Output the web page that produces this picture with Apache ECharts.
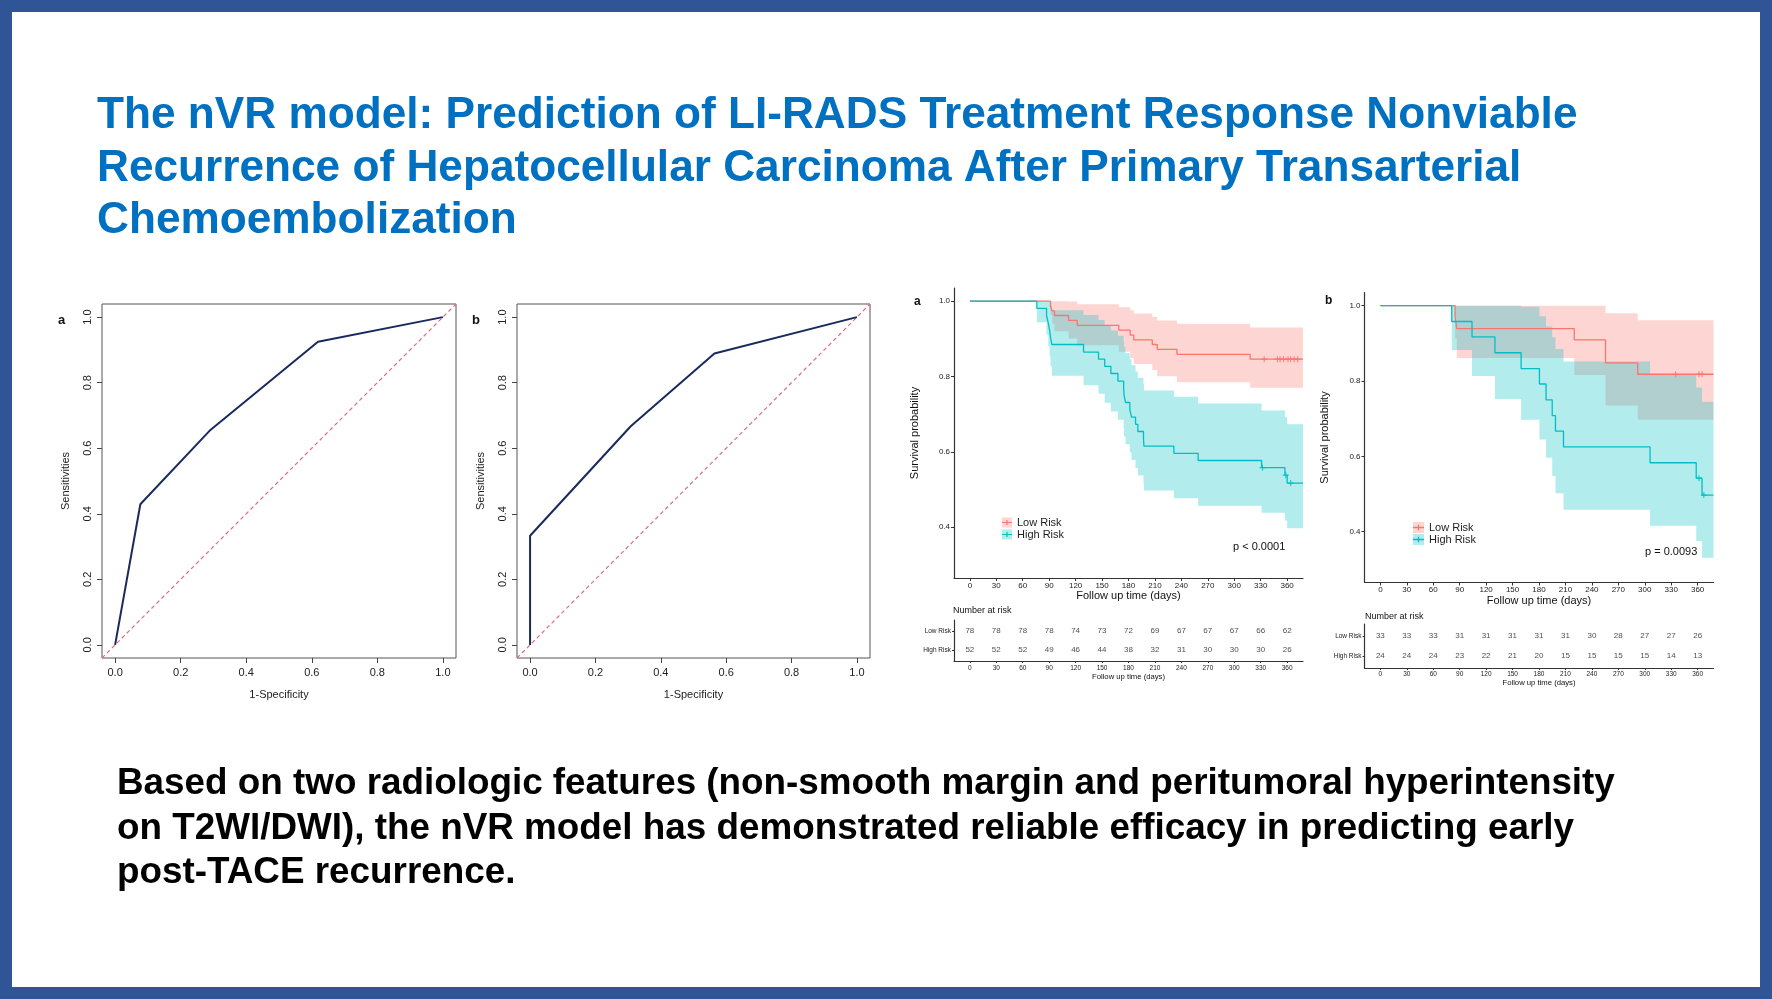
<!DOCTYPE html>
<html>
<head>
<meta charset="utf-8">
<title>nVR model</title>
<script src="https://cdn.jsdelivr.net/npm/echarts@6/dist/echarts.min.js"></script>
<style>
  html, body { margin: 0; padding: 0; background: #fff; }
  #chart { position: absolute; left: 0; top: 0; width: 1772px; height: 999px; }
  #frame { position: absolute; left: 0; top: 0; width: 1772px; height: 999px; box-sizing: border-box;
           border: 12px solid #2F5597; pointer-events: none; }
</style>
</head>
<body>
<div id="chart"></div>
<div id="frame"></div>
<script>
const FONT = "'Liberation Sans', Arial, Helvetica, sans-serif";

// texts
const titleLines = [
  'The nVR model: Prediction of LI-RADS Treatment Response Nonviable',
  'Recurrence of Hepatocellular Carcinoma After Primary Transarterial',
  'Chemoembolization'
];
const summaryLines = [
  'Based on two radiologic features (non-smooth margin and peritumoral hyperintensity',
  'on T2WI/DWI), the nVR model has demonstrated reliable efficacy in predicting early',
  'post-TACE recurrence.'
];

// ROC curves
const rocTicks = [0, 0.2, 0.4, 0.6, 0.8, 1.0];
const rocDiag = [-0.04, 1.04];
const rocA_fpr = [0, 0.077, 0.288, 0.619, 1];
const rocA_tpr = [0, 0.429, 0.653, 0.925, 1];
const rocB_fpr = [0, 0, 0.308, 0.564, 1];
const rocB_tpr = [0, 0.333, 0.667, 0.889, 1];

// Kaplan-Meier, panel a
const kmA_lowTime  = [0, 91.5, 93.4, 96, 112, 121.8, 169, 182, 186, 207, 212.6, 235, 318, 378];
const kmA_lowSurv  = [1, 0.987, 0.974, 0.962, 0.949, 0.936, 0.923, 0.910, 0.897, 0.885, 0.872, 0.859, 0.846, 0.846];
const kmA_lowLower = [1, 0.963, 0.940, 0.920, 0.901, 0.883, 0.866, 0.849, 0.833, 0.817, 0.801, 0.785, 0.770, 0.770];
const kmA_lowUpper = [1, 1, 1, 1, 0.999, 0.992, 0.984, 0.976, 0.967, 0.958, 0.949, 0.940, 0.930, 0.930];
const kmA_lowCensor = [334, 349, 352, 356, 361, 364, 368, 372];
const kmA_lowCensorSurv = [0.846, 0.846, 0.846, 0.846, 0.846, 0.846, 0.846, 0.846];

const kmA_highTime  = [0, 76, 87, 89, 90.5, 91.5, 93, 129, 146, 153, 160, 168, 174.5, 175, 176.6,
                       181.5, 183.4, 188, 190.6, 197, 197.5, 231.5, 259, 331, 357.5, 360, 378];
const kmA_highSurv  = [1, 0.981, 0.962, 0.942, 0.923, 0.904, 0.885, 0.865, 0.846, 0.827, 0.808, 0.788, 0.769, 0.750, 0.731,
                       0.712, 0.692, 0.673, 0.654, 0.635, 0.615, 0.596, 0.577, 0.558, 0.538, 0.517, 0.517];
const kmA_highLower = [1, 0.944, 0.911, 0.881, 0.853, 0.827, 0.802, 0.777, 0.754, 0.730, 0.707, 0.685, 0.663, 0.641, 0.620,
                       0.598, 0.578, 0.557, 0.537, 0.516, 0.497, 0.477, 0.457, 0.438, 0.418, 0.397, 0.397];
const kmA_highUpper = [1, 1, 1, 1, 0.998, 0.988, 0.976, 0.963, 0.950, 0.936, 0.922, 0.908, 0.893, 0.878, 0.862,
                       0.846, 0.830, 0.813, 0.797, 0.780, 0.763, 0.746, 0.728, 0.710, 0.692, 0.673, 0.673];
const kmA_highCensor = [332, 358.5, 364];
const kmA_highCensorSurv = [0.558, 0.538, 0.517];

// Kaplan-Meier, panel b
const kmB_lowTime  = [0, 84.8, 86.7, 220, 255.5, 292, 378];
const kmB_lowSurv  = [1, 0.970, 0.939, 0.909, 0.848, 0.818, 0.818];
const kmB_lowLower = [1, 0.913, 0.861, 0.816, 0.735, 0.697, 0.697];
const kmB_lowUpper = [1, 1, 1, 1, 0.980, 0.961, 0.961];
const kmB_lowCensor = [335, 361.5, 365];
const kmB_lowCensorSurv = [0.818, 0.818, 0.818];

const kmB_highTime  = [0, 81, 104, 130, 159.7, 180.5, 188, 195, 198.7, 207.8, 306, 358.4, 365, 378];
const kmB_highSurv  = [1, 0.958, 0.917, 0.875, 0.833, 0.792, 0.750, 0.708, 0.667, 0.625, 0.583, 0.542, 0.497, 0.497];
const kmB_highLower = [1, 0.882, 0.813, 0.752, 0.697, 0.645, 0.596, 0.548, 0.502, 0.458, 0.416, 0.375, 0.331, 0.331];
const kmB_highUpper = [1, 1, 1, 1, 0.997, 0.972, 0.945, 0.916, 0.885, 0.852, 0.818, 0.783, 0.745, 0.745];
const kmB_highCensor = [361.5, 367];
const kmB_highCensorSurv = [0.542, 0.497];

// Number at risk
const riskTimes = [0, 30, 60, 90, 120, 150, 180, 210, 240, 270, 300, 330, 360];
const riskA_low  = [78, 78, 78, 78, 74, 73, 72, 69, 67, 67, 67, 66, 62];
const riskA_high = [52, 52, 52, 49, 46, 44, 38, 32, 31, 30, 30, 30, 26];
const riskB_low  = [33, 33, 33, 31, 31, 31, 31, 31, 30, 28, 27, 27, 26];
const riskB_high = [24, 24, 24, 23, 22, 21, 20, 15, 15, 15, 15, 14, 13];
const survTicks = [0.4, 0.6, 0.8, 1.0];

const RED = '#F8766D', CYAN = '#00BFC4';
const RED_BAND = 'rgba(248,118,109,0.3)', CYAN_BAND = 'rgba(0,191,196,0.3)';
const PLUS = 'path://M2,0H3V2H5V3H3V5H2V3H0V2H2Z';
const KEY_LINE = 'path://M0,0h0.01v0.01h-0.01z M9.99,9.99h0.01v0.01h-0.01z M0,4.4H10V5.6H0z M4.4,2.6H5.6V7.4H4.4z';

const zip = (a, b) => a.map((v, i) => [v, b[i]]);

// ---- axes ----
function rocX(gi) {
  return {
    type: 'value', gridIndex: gi, min: -0.04, max: 1.04,
    axisLine: { show: false, onZero: false },
    axisTick: { show: true, customValues: rocTicks, length: 5, lineStyle: { color: '#444' } },
    axisLabel: { customValues: rocTicks, formatter: v => v.toFixed(1), margin: 9, fontSize: 11, color: '#222', fontFamily: FONT },
    splitLine: { show: false },
    name: '1-Specificity', nameLocation: 'middle', nameGap: 31,
    nameTextStyle: { fontSize: 11, color: '#222', fontFamily: FONT }
  };
}
function rocY(gi) {
  return {
    type: 'value', gridIndex: gi, min: -0.04, max: 1.04,
    axisLine: { show: false, onZero: false },
    axisTick: { show: true, customValues: rocTicks, length: 5, lineStyle: { color: '#444' } },
    axisLabel: { customValues: rocTicks, formatter: v => v.toFixed(1), rotate: 90, margin: 9, fontSize: 11, color: '#222', fontFamily: FONT },
    splitLine: { show: false },
    name: 'Sensitivities', nameLocation: 'middle', nameRotate: 90, nameGap: 31,
    nameTextStyle: { fontSize: 11, color: '#222', fontFamily: FONT }
  };
}
function kmX(gi, labelMargin, nameGap) {
  return {
    type: 'value', gridIndex: gi, min: -18, max: 378,
    axisLine: { onZero: false, lineStyle: { color: '#333', width: 1.2 } },
    axisTick: { customValues: riskTimes, length: 3, lineStyle: { color: '#333' } },
    axisLabel: { customValues: riskTimes, margin: labelMargin, fontSize: 8, color: '#222', fontFamily: FONT },
    splitLine: { show: false },
    name: 'Follow up time (days)', nameLocation: 'middle', nameGap: nameGap,
    nameTextStyle: { fontSize: 11, color: '#111', fontFamily: FONT }
  };
}
function kmY(gi, nameGap) {
  return {
    type: 'value', gridIndex: gi, min: 0.265, max: 1.035,
    axisLine: { show: true, onZero: false, lineStyle: { color: '#333', width: 1.2 } },
    axisTick: { show: true, customValues: survTicks, length: 3, lineStyle: { color: '#333' } },
    axisLabel: { customValues: survTicks, formatter: v => v.toFixed(1), margin: 4, fontSize: 8, color: '#222', fontFamily: FONT },
    splitLine: { show: false },
    name: 'Survival probability', nameLocation: 'middle', nameRotate: 90, nameGap: nameGap,
    nameTextStyle: { fontSize: 11, color: '#111', fontFamily: FONT }
  };
}
function tabX(gi, labelMargin, nameGap) {
  return {
    type: 'value', gridIndex: gi, min: -18, max: 378,
    axisLine: { onZero: false, lineStyle: { color: '#333', width: 1.2 } },
    axisTick: { customValues: riskTimes, length: 2, lineStyle: { color: '#333' } },
    axisLabel: { customValues: riskTimes, margin: labelMargin, fontSize: 6.5, color: '#222', fontFamily: FONT },
    splitLine: { show: false },
    name: 'Follow up time (days)', nameLocation: 'middle', nameGap: nameGap,
    nameTextStyle: { fontSize: 7.7, color: '#111', fontFamily: FONT }
  };
}
function tabY(gi) {
  return {
    type: 'value', gridIndex: gi, min: 0.4, max: 2.6,
    axisLine: { show: true, onZero: false, lineStyle: { color: '#333', width: 1.2 } },
    axisTick: { show: true, customValues: [1, 2], length: 2, lineStyle: { color: '#333' } },
    axisLabel: { customValues: [1, 2], formatter: v => (v === 2 ? 'Low Risk' : 'High Risk'), margin: 3,
                 fontSize: 6.5, color: '#222', fontFamily: FONT },
    splitLine: { show: false }
  };
}

// ---- series ----
function bandSeries(ax, times, lo, hi, color) {
  return {
    type: 'custom', xAxisIndex: ax, yAxisIndex: ax, silent: true, clip: true, z: 1,
    data: times.map((t, i) => [t, lo[i], hi[i]]),
    renderItem: (params, api) => {
      if (params.dataIndex !== 0) return null;
      const pts = [];
      for (let i = 0; i < times.length; i++) {
        if (i > 0) pts.push(api.coord([times[i], hi[i - 1]]));
        pts.push(api.coord([times[i], hi[i]]));
      }
      for (let i = times.length - 1; i >= 0; i--) {
        pts.push(api.coord([times[i], lo[i]]));
        if (i > 0) pts.push(api.coord([times[i], lo[i - 1]]));
      }
      return { type: 'polygon', shape: { points: pts }, style: { fill: color } };
    }
  };
}
function stepSeries(ax, name, times, surv, color) {
  return {
    type: 'line', name: name, xAxisIndex: ax, yAxisIndex: ax, step: 'end', showSymbol: false, z: 3,
    data: zip(times, surv), lineStyle: { color: color, width: 1.3 }, itemStyle: { color: color }
  };
}
function censorSeries(ax, times, surv, color) {
  return {
    type: 'scatter', xAxisIndex: ax, yAxisIndex: ax, symbol: PLUS, symbolSize: 6, z: 4,
    data: zip(times, surv), itemStyle: { color: color }
  };
}
function riskSeries(ax, row, counts) {
  return {
    type: 'scatter', xAxisIndex: ax, yAxisIndex: ax, symbolSize: 1,
    itemStyle: { color: 'rgba(0,0,0,0)' },
    data: riskTimes.map((t, i) => [t, row, counts[i]]),
    label: { show: true, position: 'inside', formatter: p => p.value[2], fontSize: 8, color: '#222', fontFamily: FONT }
  };
}
function rocSeries(ax, fpr, tpr) {
  return [
    { type: 'line', xAxisIndex: ax, yAxisIndex: ax, showSymbol: false, data: zip(rocDiag, rocDiag),
      lineStyle: { color: '#D9707C', width: 1.2, type: [4, 3] } },
    { type: 'line', xAxisIndex: ax, yAxisIndex: ax, showSymbol: false, data: zip(fpr, tpr),
      lineStyle: { color: '#1B2A5E', width: 2 } }
  ];
}
function legends(left, top, size) {
  const base = { orient: 'vertical', left: left, top: top, padding: 0, itemWidth: size, itemHeight: size, itemGap: 1,
                 selectedMode: false, textStyle: { fontSize: 11, color: '#222', fontFamily: FONT } };
  return [
    Object.assign({}, base, { data: [
      { name: 'Low Risk', icon: 'rect', itemStyle: { color: RED_BAND } },
      { name: 'High Risk', icon: 'rect', itemStyle: { color: CYAN_BAND } }
    ] }),
    Object.assign({}, base, { textStyle: { fontSize: 11, color: 'rgba(0,0,0,0)', fontFamily: FONT }, data: [
      { name: 'Low Risk', icon: KEY_LINE, itemStyle: { color: RED } },
      { name: 'High Risk', icon: KEY_LINE, itemStyle: { color: CYAN } }
    ] })
  ];
}
function label(text, left, top, size, bold, color) {
  return { text: text, left: left, top: top, padding: 0,
           textStyle: { fontSize: size, fontWeight: bold ? 'bold' : 'normal', color: color || '#111', fontFamily: FONT, lineHeight: size + 2 } };
}

const chart = echarts.init(document.getElementById('chart'));
chart.setOption({
  animation: false,
  backgroundColor: '#fff',
  title: [
    { text: titleLines.join('\n'), left: 97, top: 89.5, padding: 0,
      textStyle: { fontSize: 44.2, fontWeight: 'bold', color: '#0070C0', fontFamily: FONT, lineHeight: 52.6 } },
    { text: summaryLines.join('\n'), left: 117, top: 762, padding: 0,
      textStyle: { fontSize: 36.85, fontWeight: 'bold', color: '#000', fontFamily: FONT, lineHeight: 44.5 } },
    label('a', 58, 313, 13, true),
    label('b', 472, 313, 13, true),
    label('a', 914, 295, 12, true),
    label('b', 1325, 294, 12, true),
    label('p < 0.0001', 1233, 540, 11, false),
    label('p = 0.0093', 1645, 545, 11, false),
    label('Number at risk', 953, 605, 9, false),
    label('Number at risk', 1365, 611, 9, false)
  ],
  legend: legends(1002, 517, 10).concat(legends(1413, 522, 11)),
  grid: [
    { left: 102, top: 304, width: 354, height: 354, show: true, borderColor: '#555', borderWidth: 1, backgroundColor: 'transparent' },
    { left: 517, top: 304, width: 353, height: 354, show: true, borderColor: '#555', borderWidth: 1, backgroundColor: 'transparent' },
    { left: 954, top: 288, width: 349, height: 290 },
    { left: 1364.5, top: 292.5, width: 349, height: 290 },
    { left: 954, top: 620, width: 349, height: 41 },
    { left: 1364.5, top: 624, width: 349, height: 44 }
  ],
  xAxis: [rocX(0), rocX(1), kmX(2, 4, 10.5), kmX(3, 3.5, 12.5), tabX(4, 3.5, 11), tabX(5, 2.5, 10)],
  yAxis: [rocY(0), rocY(1), kmY(2, 33.5), kmY(3, 34), tabY(4), tabY(5)],
  series: [
    ...rocSeries(0, rocA_fpr, rocA_tpr),
    ...rocSeries(1, rocB_fpr, rocB_tpr),

    bandSeries(2, kmA_lowTime, kmA_lowLower, kmA_lowUpper, RED_BAND),
    bandSeries(2, kmA_highTime, kmA_highLower, kmA_highUpper, CYAN_BAND),
    stepSeries(2, 'Low Risk', kmA_lowTime, kmA_lowSurv, RED),
    stepSeries(2, 'High Risk', kmA_highTime, kmA_highSurv, CYAN),
    censorSeries(2, kmA_lowCensor, kmA_lowCensorSurv, RED),
    censorSeries(2, kmA_highCensor, kmA_highCensorSurv, CYAN),

    bandSeries(3, kmB_lowTime, kmB_lowLower, kmB_lowUpper, RED_BAND),
    bandSeries(3, kmB_highTime, kmB_highLower, kmB_highUpper, CYAN_BAND),
    stepSeries(3, 'Low Risk', kmB_lowTime, kmB_lowSurv, RED),
    stepSeries(3, 'High Risk', kmB_highTime, kmB_highSurv, CYAN),
    censorSeries(3, kmB_lowCensor, kmB_lowCensorSurv, RED),
    censorSeries(3, kmB_highCensor, kmB_highCensorSurv, CYAN),

    riskSeries(4, 2, riskA_low),
    riskSeries(4, 1, riskA_high),
    riskSeries(5, 2, riskB_low),
    riskSeries(5, 1, riskB_high)
  ]
});
</script>
</body>
</html>
